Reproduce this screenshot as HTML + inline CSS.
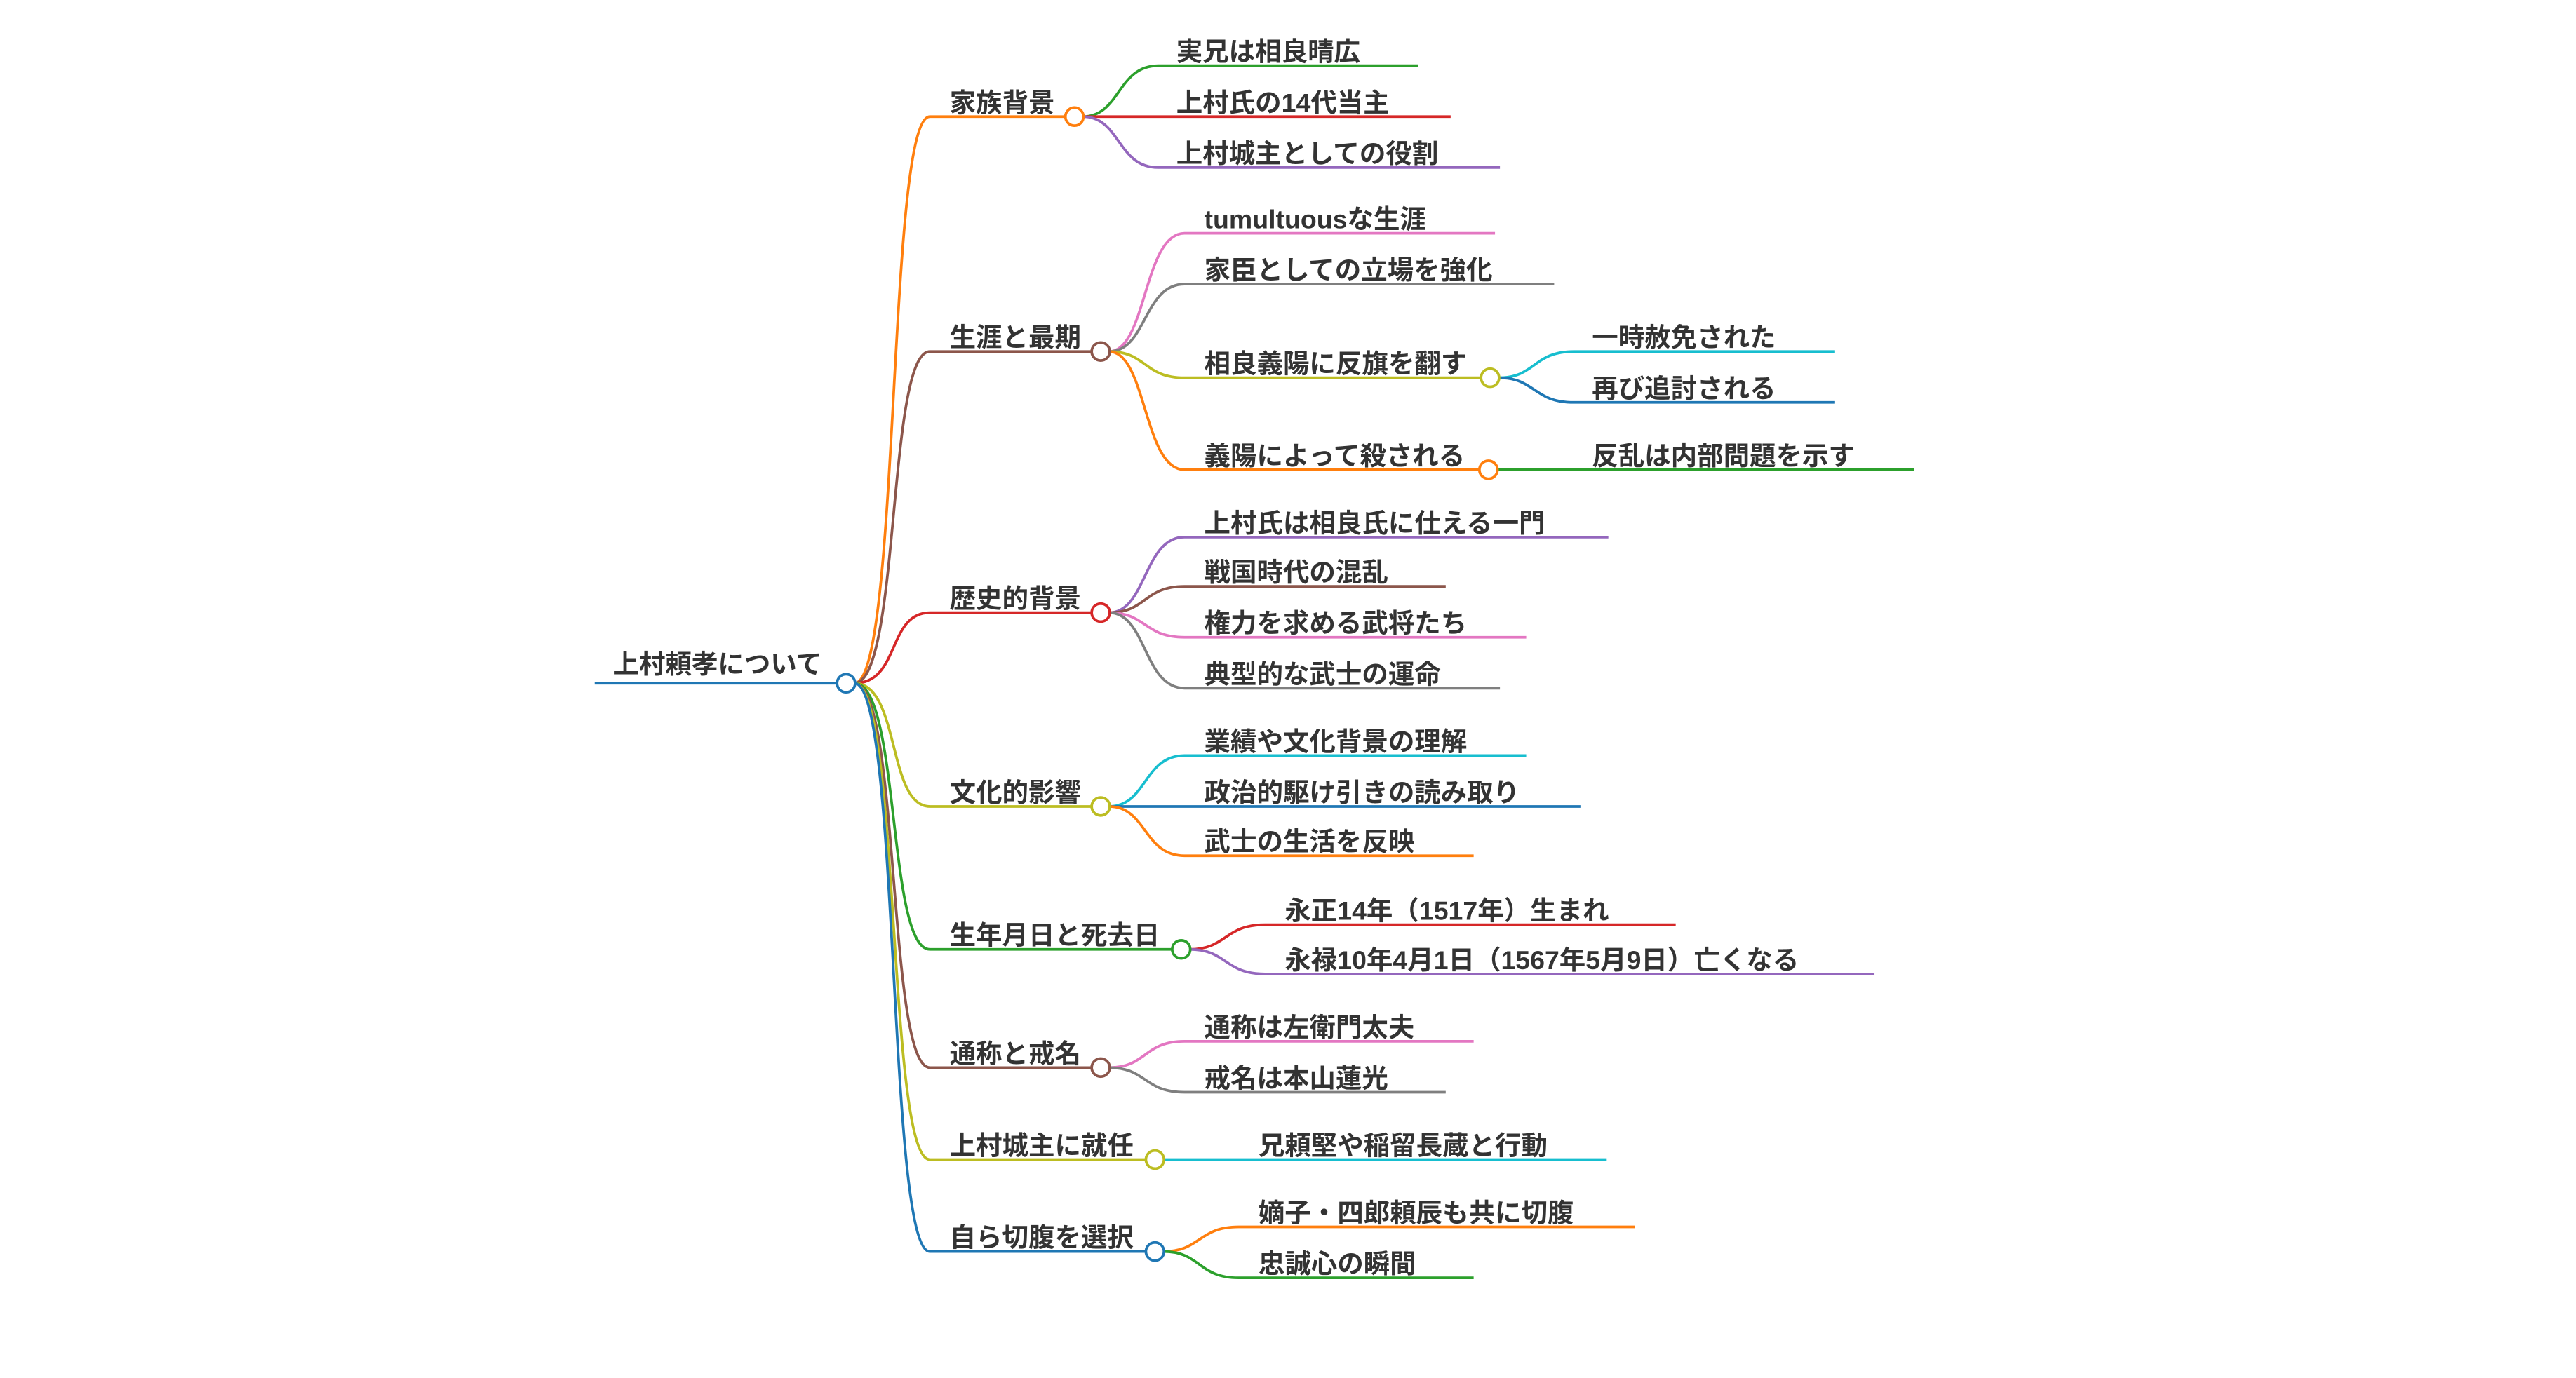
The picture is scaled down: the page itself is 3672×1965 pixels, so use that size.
<!DOCTYPE html>
<html><head><meta charset="utf-8"><style>
html,body{margin:0;padding:0;background:#fff;}
svg{display:block;}
text{font-family:"Liberation Sans","Noto Sans CJK JP",sans-serif;font-weight:bold;font-size:16px;fill:#333;}
path{fill:none;stroke-width:1.6;}
circle{fill:#fff;stroke-width:1.6;}
</style></head><body>
<svg width="3672" height="1965" viewBox="0 0 1568 839" preserveAspectRatio="none" xmlns="http://www.w3.org/2000/svg">
<path d="M362,416 L510,416" stroke="#1f77b4"/>
<text x="373" y="410">上村頼孝について</text>
<path d="M520,416 C548,416 540,71 566,71 L648,71" stroke="#ff7f0e"/>
<path d="M520,416 C548,416 540,214 566,214 L664,214" stroke="#8c564b"/>
<path d="M520,416 C548,416 540,373 566,373 L664,373" stroke="#d62728"/>
<path d="M520,416 C548,416 540,491 566,491 L664,491" stroke="#bcbd22"/>
<path d="M520,416 C548,416 540,578 566,578 L713,578" stroke="#2ca02c"/>
<path d="M520,416 C548,416 540,650 566,650 L664,650" stroke="#8c564b"/>
<path d="M520,416 C548,416 540,706 566,706 L697,706" stroke="#bcbd22"/>
<path d="M520,416 C548,416 540,762 566,762 L697,762" stroke="#1f77b4"/>
<text x="578" y="68">家族背景</text>
<text x="578" y="211">生涯と最期</text>
<text x="578" y="370">歴史的背景</text>
<text x="578" y="488">文化的影響</text>
<text x="578" y="575">生年月日と死去日</text>
<text x="578" y="647">通称と戒名</text>
<text x="578" y="703">上村城主に就任</text>
<text x="578" y="759">自ら切腹を選択</text>

<path d="M659,71 C682,71 680,40 705,40 L863,40" stroke="#2ca02c"/>
<path d="M659,71 L883,71" stroke="#d62728"/>
<path d="M659,71 C682,71 680,102 705,102 L913,102" stroke="#9467bd"/>
<text x="716" y="37">実兄は相良晴広</text>
<text x="716" y="68">上村氏の14代当主</text>
<text x="716" y="99">上村城主としての役割</text>

<path d="M675,214 C698,214 696,142 721,142 L910,142" stroke="#e377c2"/>
<path d="M675,214 C698,214 696,173 721,173 L946,173" stroke="#7f7f7f"/>
<path d="M675,214 C698,214 696,230 721,230 L901,230" stroke="#bcbd22"/>
<path d="M675,214 C698,214 696,286 721,286 L900,286" stroke="#ff7f0e"/>
<text x="733" y="139">tumultuousな生涯</text>
<text x="733" y="170">家臣としての立場を強化</text>
<text x="733" y="227">相良義陽に反旗を翻す</text>
<text x="733" y="283">義陽によって殺される</text>
<path d="M912,230 C935,230 933,214 958,214 L1117,214" stroke="#17becf"/>
<path d="M912,230 C935,230 933,245 958,245 L1117,245" stroke="#1f77b4"/>
<path d="M911,286 L1165,286" stroke="#2ca02c"/>
<text x="969" y="211">一時赦免された</text>
<text x="969" y="242">再び追討される</text>
<text x="969" y="283">反乱は内部問題を示す</text>
<circle cx="907" cy="230" r="5.5" stroke="#bcbd22"/>
<circle cx="906" cy="286" r="5.5" stroke="#ff7f0e"/>

<path d="M675,373 C698,373 696,327 721,327 L979,327" stroke="#9467bd"/>
<path d="M675,373 C698,373 696,357 721,357 L880,357" stroke="#8c564b"/>
<path d="M675,373 C698,373 696,388 721,388 L929,388" stroke="#e377c2"/>
<path d="M675,373 C698,373 696,419 721,419 L913,419" stroke="#7f7f7f"/>
<text x="733" y="324">上村氏は相良氏に仕える一門</text>
<text x="733" y="354">戦国時代の混乱</text>
<text x="733" y="385">権力を求める武将たち</text>
<text x="733" y="416">典型的な武士の運命</text>

<path d="M675,491 C698,491 696,460 721,460 L929,460" stroke="#17becf"/>
<path d="M675,491 L962,491" stroke="#1f77b4"/>
<path d="M675,491 C698,491 696,521 721,521 L897,521" stroke="#ff7f0e"/>
<text x="733" y="457">業績や文化背景の理解</text>
<text x="733" y="488">政治的駆け引きの読み取り</text>
<text x="733" y="518">武士の生活を反映</text>

<path d="M724,578 C747,578 745,563 770,563 L1020,563" stroke="#d62728"/>
<path d="M724,578 C747,578 745,593 770,593 L1141,593" stroke="#9467bd"/>
<text x="782" y="560">永正14年（1517年）生まれ</text>
<text x="782" y="590">永禄10年4月1日（1567年5月9日）亡くなる</text>

<path d="M675,650 C698,650 696,634 721,634 L897,634" stroke="#e377c2"/>
<path d="M675,650 C698,650 696,665 721,665 L880,665" stroke="#7f7f7f"/>
<text x="733" y="631">通称は左衛門太夫</text>
<text x="733" y="662">戒名は本山蓮光</text>

<path d="M708,706 L978,706" stroke="#17becf"/>
<text x="766" y="703">兄頼堅や稲留長蔵と行動</text>

<path d="M708,762 C731,762 729,747 754,747 L995,747" stroke="#ff7f0e"/>
<path d="M708,762 C731,762 729,778 754,778 L897,778" stroke="#2ca02c"/>
<text x="766" y="744">嫡子・四郎頼辰も共に切腹</text>
<text x="766" y="775">忠誠心の瞬間</text>

<circle cx="515" cy="416" r="5.5" stroke="#1f77b4"/>
<circle cx="654" cy="71" r="5.5" stroke="#ff7f0e"/>
<circle cx="670" cy="214" r="5.5" stroke="#8c564b"/>
<circle cx="670" cy="373" r="5.5" stroke="#d62728"/>
<circle cx="670" cy="491" r="5.5" stroke="#bcbd22"/>
<circle cx="719" cy="578" r="5.5" stroke="#2ca02c"/>
<circle cx="670" cy="650" r="5.5" stroke="#8c564b"/>
<circle cx="703" cy="706" r="5.5" stroke="#bcbd22"/>
<circle cx="703" cy="762" r="5.5" stroke="#1f77b4"/>
</svg>
</body></html>
